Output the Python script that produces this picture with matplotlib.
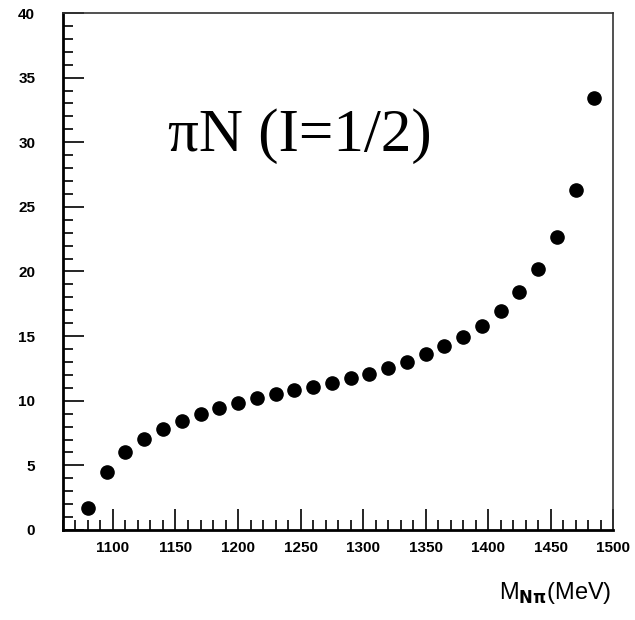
import matplotlib
matplotlib.use("Agg")
import matplotlib.pyplot as plt
from matplotlib.ticker import MultipleLocator

mass = [1080, 1095, 1110, 1125, 1140, 1155, 1170, 1185, 1200, 1215,
        1230, 1245, 1260, 1275, 1290, 1305, 1320, 1335, 1350, 1365,
        1380, 1395, 1410, 1425, 1440, 1455, 1470, 1485]
values = [1.7, 4.5, 6.0, 7.05, 7.8, 8.45, 9.0, 9.4, 9.85, 10.2,
          10.5, 10.8, 11.1, 11.4, 11.75, 12.1, 12.5, 13.0, 13.6, 14.2,
          14.9, 15.8, 16.95, 18.4, 20.2, 22.7, 26.3, 33.4]
x_ticks = [1100, 1150, 1200, 1250, 1300, 1350, 1400, 1450, 1500]
y_ticks = [0, 5, 10, 15, 20, 25, 30, 35, 40]

fig = plt.figure(figsize=(6.35, 6.2), dpi=100)
ax = fig.add_axes([0.0992, 0.1452, 0.8662, 0.8338])
ax.plot(mass, values, 'o', color='black', markersize=9.5, linestyle='none')
ax.set_xlim(1060, 1500)
ax.set_ylim(0, 40)
ax.set_xticks(x_ticks)
ax.set_yticks(y_ticks)
ax.xaxis.set_minor_locator(MultipleLocator(10))
ax.yaxis.set_minor_locator(MultipleLocator(1))
ax.tick_params(which='major', direction='in', length=15, width=1.2, top=False, right=False)
ax.tick_params(which='minor', direction='in', length=7.5, width=1.2, top=False, right=False)
ax.tick_params(axis='y', which='major', pad=20)
ax.tick_params(axis='x', which='major', pad=8)
for lab in ax.get_xticklabels() + ax.get_yticklabels():
    lab.set_fontfamily('Liberation Sans')
    lab.set_fontweight('bold')
    lab.set_fontsize(11)
for s in ['left', 'bottom']:
    ax.spines[s].set_linewidth(2.0)
for s in ['top', 'right']:
    ax.spines[s].set_linewidth(1.2)
    ax.spines[s].set_color('#333333')

ax.text(0.191, 0.733, 'πN (I=1/2)', transform=ax.transAxes,
        fontfamily='Liberation Serif', fontsize=44, va='baseline', ha='left')

fig.text(0.963, 0.043, r'M$_{\mathbf{N\pi}}$(MeV)', ha='right', va='center',
         fontfamily='Liberation Sans', fontsize=17)

fig.savefig('out.png', dpi=100, facecolor='white')
